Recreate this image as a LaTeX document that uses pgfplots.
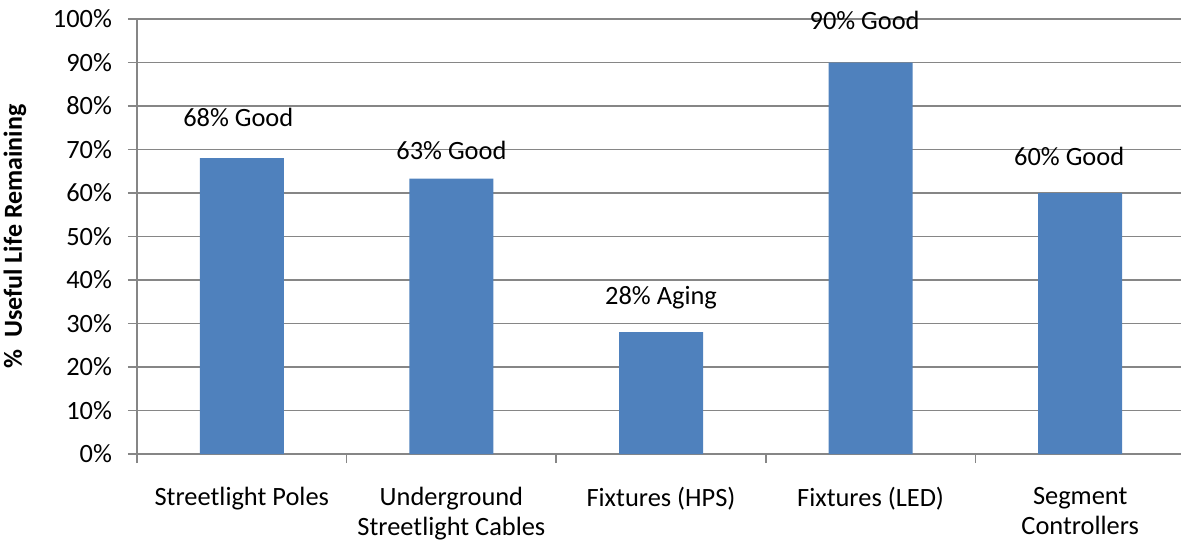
\documentclass[border=0pt]{standalone}
\usepackage{pgfplots}
\pgfplotsset{compat=1.18}
\usepackage{fontspec}
\setmainfont{Carlito}
\definecolor{barblue}{RGB}{79,129,189}
\definecolor{gridgray}{RGB}{134,134,134}

% one invisible bar per label, shifted by hand like the original
\pgfplotsset{
    barlabel/.style 2 args={draw=none, fill=none, bar shift=0pt, forget plot,
        nodes near coords, point meta=explicit symbolic,
        every node near coord/.append style={font=\fontsize{13.2}{15}\selectfont,
            anchor=south, xshift=#1, yshift=#2, inner sep=1pt}},
}

\begin{document}
\begin{tikzpicture}
        \begin{axis}[
                at={(0,0)},
                anchor=south west,
                scale only axis,
                width=524pt,
                height=217.5pt,
                ybar,
                bar width=42pt,
                xmin=-0.5, xmax=4.5,
                ymin=0, ymax=100,
                ytick={0,10,...,100},
                yticklabels={0\%,10\%,20\%,30\%,40\%,50\%,60\%,70\%,80\%,90\%,100\%},
                xtick={0,1,2,3,4},
                xticklabels={Streetlight Poles,{Underground\\Streetlight Cables},Fixtures (HPS),Fixtures (LED),{Segment\\Controllers}},
                minor xtick={-0.5,0.5,1.5,2.5,3.5,4.5},
                major x tick style={draw=none},
                minor x tick style={gridgray, line width=0.8pt},
                y tick style={gridgray, line width=0.8pt},
                tick align=outside,
                major tick length=4.5pt,
                minor tick length=4.5pt,
                axis x line*=bottom,
                axis y line*=left,
                axis line style={gridgray, line width=0.8pt, -},
                ymajorgrids,
                major grid style={gridgray, line width=0.8pt},
                ylabel={\bfseries \%\ \ Useful Life Remaining},
                ylabel style={font=\fontsize{13}{15}\selectfont, at={(axis description cs:-0.1165,0.5)}, anchor=center},
                yticklabel style={font=\fontsize{13.2}{15}\selectfont, xshift=-4.5pt},
                xticklabel style={font=\fontsize{13.2}{15}\selectfont, align=center, yshift=-8.5pt},
            ]
            \addplot[fill=barblue, draw=none, bar shift=0pt] coordinates {
                (0,68) (1,63.3) (2,28) (3,90) (4,60)
            };
            \addplot[barlabel={-1.75pt}{14.5pt}] coordinates {(0,68) [68\% Good]};
            \addplot[barlabel={0pt}{8.5pt}] coordinates {(1,63.3) [63\% Good]};
            \addplot[barlabel={0pt}{10.5pt}] coordinates {(2,28) [28\% Aging]};
            \addplot[barlabel={-3pt}{15pt}] coordinates {(3,90) [90\% Good]};
            \addplot[barlabel={-5.5pt}{12.5pt}] coordinates {(4,60) [60\% Good]};
        \end{axis}
        \pgfresetboundingbox
        \path[use as bounding box] (-68.5pt,-44pt) rectangle (522pt,227pt);
    \end{tikzpicture}
\end{document}
